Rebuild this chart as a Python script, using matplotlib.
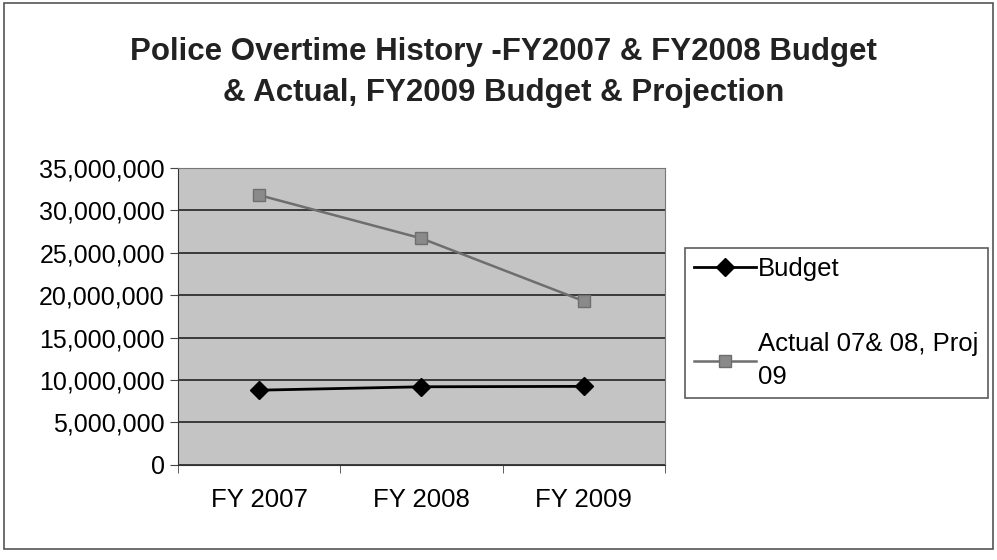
import numpy as np
import matplotlib.pyplot as plt
from matplotlib.patches import Rectangle
from matplotlib.ticker import FuncFormatter

plt.rcParams['font.family'] = ['Liberation Sans', 'DejaVu Sans']

years = ['FY 2007', 'FY 2008', 'FY 2009']
budget = [8.8e6, 9.2e6, 9.25e6]
actual = [31.8e6, 26.7e6, 19.3e6]
yticks = np.arange(0, 35e6 + 1, 5e6)

fig = plt.figure(figsize=(9.97, 5.6), dpi=100)
ax = fig.add_axes([0.1785, 0.170, 0.4885, 0.530])

x = np.arange(len(years))
ax.set_facecolor('#c4c4c4')
ax.plot(x, budget, color='black', lw=2, marker='D', ms=9, label='Budget', zorder=3)
ax.plot(x, actual, color='#6e6e6e', lw=1.8, marker='s', ms=9, mfc='#8a8a8a', mec='#6e6e6e',
        label='Actual 07& 08, Proj\n09', zorder=3)

ax.set_ylim(0, 35e6)
ax.set_yticks(yticks)
ax.yaxis.set_major_formatter(FuncFormatter(lambda v, p: f'{int(v):,}'))
ax.grid(axis='y', color='#222222', lw=1.2)
ax.set_axisbelow(True)

ax.set_xlim(-0.5, 2.5)
ax.set_xticks(x)
ax.set_xticklabels(years)
ax.set_xticks(np.arange(-0.5, 3, 1), minor=True)
ax.tick_params(axis='x', which='major', length=0, pad=17, labelsize=18.5)
ax.tick_params(axis='x', which='minor', length=6, direction='out', color='#444444')
ax.tick_params(axis='y', length=6, direction='out', labelsize=18, color='#444444')

for s in ['top', 'right']:
    ax.spines[s].set_color('#777777')
for s in ['left', 'bottom']:
    ax.spines[s].set_color('#333333')

fig.text(0.505, 0.908, 'Police Overtime History -FY2007 & FY2008 Budget',
         ha='center', va='center', fontsize=22.5, fontweight='bold', color='#222222')
fig.text(0.505, 0.834, '& Actual, FY2009 Budget & Projection',
         ha='center', va='center', fontsize=22.5, fontweight='bold', color='#222222')

leg = fig.legend(loc='upper left', bbox_to_anchor=(0.687, 0.557), fontsize=18.5,
                 frameon=True, fancybox=False, edgecolor='#333333', handlelength=2.4,
                 labelspacing=2.0, borderpad=0.35, handletextpad=0.1, borderaxespad=0)
leg.get_frame().set_linewidth(1.2)
leg.get_texts()[1].set_linespacing(1.45)

fig.patches.append(Rectangle((0.004, 0.02), 0.992, 0.975, transform=fig.transFigure,
                             fill=False, edgecolor='#555555', lw=1.2))

fig.savefig('out.png', dpi=100)
